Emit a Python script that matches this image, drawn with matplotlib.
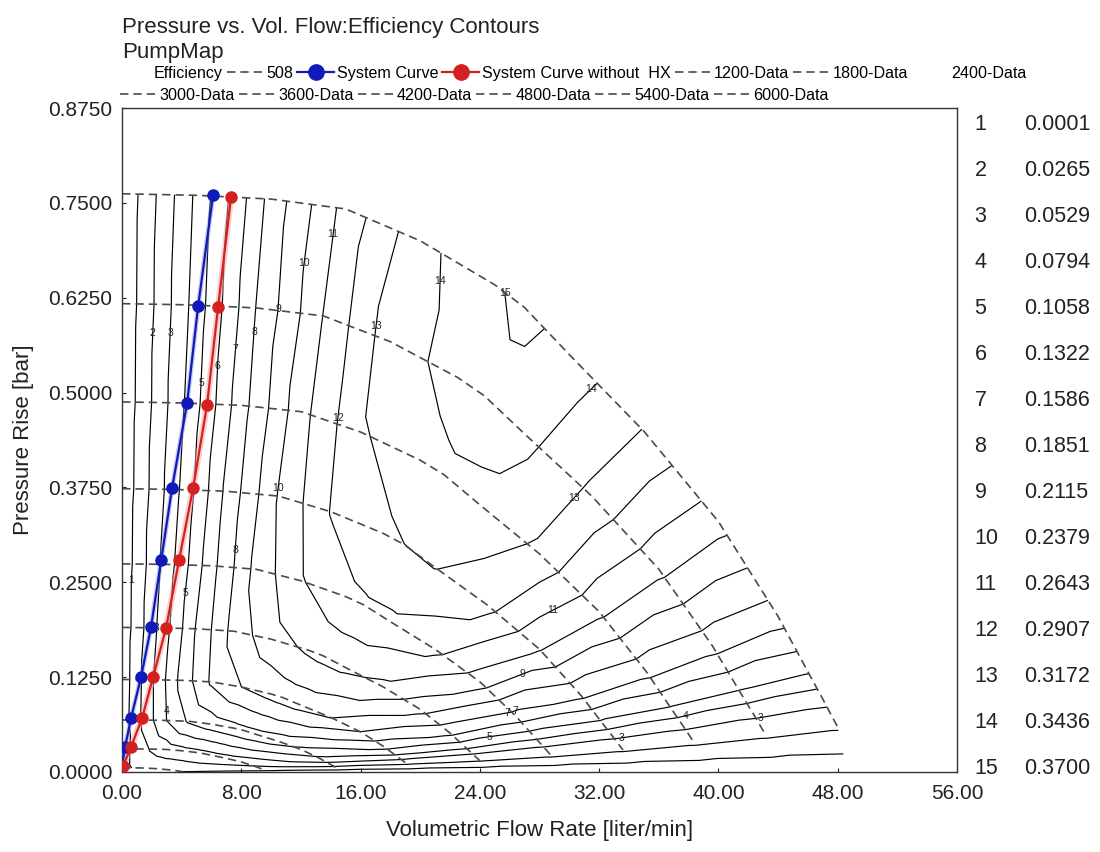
import numpy as np
import matplotlib
matplotlib.use("Agg")
import matplotlib.pyplot as plt
import matplotlib.tri as mtri
from matplotlib.lines import Line2D

plt.rcParams['font.family'] = ['Liberation Sans', 'DejaVu Sans']

# ---------------- data ----------------
SPEEDS = [508, 1200, 1800, 2400, 3000, 3600, 4200, 4800, 5400, 6000]
# top speed line (6000): flow [l/min] and pressure rise [bar]
Q_6000 = [0, 5, 10, 15, 20, 25, 27, 30, 35, 40, 44, 46, 47, 48]
H_6000 = [0.762, 0.760, 0.755, 0.742, 0.700, 0.642, 0.612, 0.550, 0.449,
          0.330, 0.205, 0.132, 0.096, 0.059]
# extra run-out point of the map (near zero pressure, used by the contour grid)
Q_RUNOUT_6000 = 48.5
H_RUNOUT_6000 = 0.012

# efficiency at each point of each speed line (last value: run-out point)
EFF_508 = [-0.006, -0.002, 0.002, 0.004, 0.005, 0.005, 0.005, 0.005, 0.005, 0.004, 0.003, 0.002, 0.001, 0.000, -0.006]
EFF_1200 = [-0.012, 0.012, 0.030, 0.040, 0.044, 0.045, 0.045, 0.045, 0.043, 0.036, 0.027, 0.018, 0.012, 0.006, -0.010]
EFF_1800 = [-0.015, 0.035, 0.080, 0.110, 0.120, 0.124, 0.125, 0.124, 0.118, 0.100, 0.075, 0.050, 0.034, 0.016, -0.010]
EFF_2400 = [-0.017, 0.050, 0.115, 0.163, 0.185, 0.194, 0.196, 0.195, 0.186, 0.158, 0.115, 0.075, 0.048, 0.024, -0.010]
EFF_3000 = [-0.018, 0.058, 0.135, 0.195, 0.228, 0.242, 0.245, 0.244, 0.232, 0.195, 0.140, 0.088, 0.054, 0.028, -0.010]
EFF_3600 = [-0.019, 0.065, 0.150, 0.220, 0.262, 0.284, 0.287, 0.286, 0.272, 0.225, 0.150, 0.092, 0.056, 0.030, -0.010]
EFF_4200 = [-0.020, 0.070, 0.165, 0.240, 0.292, 0.312, 0.317, 0.318, 0.300, 0.240, 0.165, 0.100, 0.058, 0.030, -0.010]
EFF_4800 = [-0.021, 0.075, 0.175, 0.255, 0.314, 0.334, 0.339, 0.337, 0.312, 0.245, 0.168, 0.104, 0.060, 0.030, -0.010]
EFF_5400 = [-0.022, 0.080, 0.186, 0.265, 0.333, 0.352, 0.356, 0.352, 0.312, 0.246, 0.170, 0.105, 0.060, 0.030, -0.010]
EFF_6000 = [-0.023, 0.085, 0.195, 0.274, 0.335, 0.366, 0.378, 0.360, 0.316, 0.249, 0.172, 0.109, 0.062, 0.030, -0.010]
EFF_ROWS = [EFF_508, EFF_1200, EFF_1800, EFF_2400, EFF_3000, EFF_3600,
            EFF_4200, EFF_4800, EFF_5400, EFF_6000]

LEVELS = [0.0001, 0.0265, 0.0529, 0.0794, 0.1058, 0.1322, 0.1586, 0.1851,
          0.2115, 0.2379, 0.2643, 0.2907, 0.3172, 0.3436, 0.3700]
LEVEL_NAMES = [str(i) for i in range(1, 16)]

SYS_Q = [6.10, 5.10, 4.36, 3.35, 2.62, 1.94, 1.27, 0.60, 0.20, 0.0]
SYS_H = [0.760, 0.614, 0.486, 0.374, 0.279, 0.191, 0.125, 0.071, 0.033, 0.008]
SYSNOHX_Q = [7.31, 6.44, 5.70, 4.76, 3.82, 2.95, 2.08, 1.34, 0.60, 0.07]
SYSNOHX_H = [0.758, 0.613, 0.484, 0.374, 0.279, 0.190, 0.125, 0.071, 0.033, 0.008]

LABEL_POS = [(0.74, 0.253), (2.35, 0.578), (3.42, 0.578), (5.2, 0.513), (6.4, 0.535),
             (7.6, 0.557), (8.9, 0.58), (10.1, 0.611), (11.9, 0.672), (14.3, 0.708),
             (17.6, 0.586), (20.8, 0.648), (25.7, 0.631), (31.7, 0.499), (14.6, 0.466),
             (10.1, 0.375), (7.1, 0.293), (4.2, 0.236), (30.2, 0.362), (28.7, 0.22),
             (26.7, 0.137), (26.2, 0.088), (25.9, 0.072), (37.8, 0.075), (33.5, 0.046),
             (42.9, 0.062), (24.7, 0.042), (2.4, 0.19), (2.8, 0.08)]

# ---------------- figure ----------------
fig = plt.figure(figsize=(11.0, 8.52), dpi=100)
ax = fig.add_axes([0.111, 0.0939, 0.759, 0.7793])

q6 = np.array(Q_6000, dtype=float)
h6 = np.array(H_6000, dtype=float)
q6_grid = np.append(q6, Q_RUNOUT_6000)
h6_grid = np.append(h6, H_RUNOUT_6000)

# structured triangulation over the speed lines (affinity scaling of the 6000 line)
xs, ys, zs = [], [], []
for s, row in zip(SPEEDS, EFF_ROWS):
    r = s / 6000.0
    xs.extend(q6_grid * r)
    ys.extend(h6_grid * r * r)
    zs.extend(row)
nc = len(q6_grid)
tris = []
for j in range(len(SPEEDS) - 1):
    for c in range(nc - 1):
        a = j * nc + c
        b = a + 1
        d = (j + 1) * nc + c
        e = d + 1
        tris.append([a, b, d])
        tris.append([b, e, d])
tri = mtri.Triangulation(np.array(xs), np.array(ys), np.array(tris))
cs = ax.tricontour(tri, np.array(zs), levels=LEVELS, colors='black', linewidths=0.85)
fmt = {lv: nm for lv, nm in zip(cs.levels, LEVEL_NAMES)}
labels = ax.clabel(cs, manual=LABEL_POS, fmt=fmt, fontsize=7.5, inline=False)
for t in labels:
    t.set_rotation(0)
    t.set_color('#222222')

# speed lines (dashed)
dash_kw = dict(color='#4a4a4a', linestyle=(0, (5, 3)), linewidth=1.2)
for s in SPEEDS:
    r = s / 6000.0
    ax.plot(q6 * r, h6 * r * r, **dash_kw)

# system curves
ax.plot(SYS_Q, SYS_H, color='#8890e0', lw=3.5, alpha=0.45, zorder=4)
ax.plot(SYS_Q, SYS_H, color='#101ab8', lw=1.6, marker='o', ms=8,
        markeredgecolor='#101ab8', zorder=5)
ax.plot(SYSNOHX_Q, SYSNOHX_H, color='#f4a0a0', lw=4.5, alpha=0.5, zorder=4)
ax.plot(SYSNOHX_Q, SYSNOHX_H, color='#d42020', lw=1.6, marker='o', ms=8,
        markeredgecolor='#d42020', zorder=5)

ax.set_xlim(0, 56)
ax.set_ylim(0, 0.875)
ax.set_xticks(np.arange(0, 57, 8))
ax.set_xticklabels([f"{v:.2f}" for v in np.arange(0, 57, 8)])
ax.set_yticks(np.arange(0, 0.876, 0.125))
ax.set_yticklabels([f"{v:.4f}" for v in np.arange(0, 0.876, 0.125)])
ax.tick_params(axis='both', direction='in', length=3, labelsize=15, colors='#222222')
ax.tick_params(axis='x', pad=9)
ax.tick_params(axis='y', pad=7)
for sp in ax.spines.values():
    sp.set_color('#333333')
    sp.set_linewidth(1.0)
ax.set_xlabel("Volumetric Flow Rate [liter/min]", fontsize=16, labelpad=12, color='#222222')
ax.set_ylabel("Pressure Rise [bar]", fontsize=16, labelpad=10, color='#222222')

# titles
fig.text(0.111, 0.980, "Pressure vs. Vol. Flow:Efficiency Contours", fontsize=16,
         va='top', ha='left', color='#222222')
fig.text(0.111, 0.951, "PumpMap", fontsize=16, va='top', ha='left', color='#222222')

# legends
def dash_handle():
    return Line2D([], [], **dash_kw)

blank = Line2D([], [], color='none')
row1_h = [blank, dash_handle(),
          Line2D([], [], color='#101ab8', lw=1.6, marker='o', ms=11),
          Line2D([], [], color='#d42020', lw=1.6, marker='o', ms=11),
          dash_handle(), dash_handle(), Line2D([], [], color='none')]
row1_l = ["Efficiency", str(SPEEDS[0]), "System Curve", "System Curve without  HX",
          "1200-Data", "1800-Data", "2400-Data"]
row2_h = [dash_handle() for _ in range(6)]
row2_l = [f"{s}-Data" for s in SPEEDS[4:]]
leg_kw = dict(frameon=False, fontsize=11.6, handlelength=2.3, handletextpad=0.15,
              columnspacing=0.25, borderpad=0, borderaxespad=0, loc='center left')
fig.legend(row1_h, row1_l, ncol=len(row1_l), bbox_to_anchor=(0.104, 0.914), **leg_kw)
fig.legend(row2_h, row2_l, ncol=len(row2_l), bbox_to_anchor=(0.109, 0.888), **leg_kw)

# level table on the right
for i, lv in enumerate(LEVELS):
    yy = 1 - (125 + i * 45.93) / 852
    fig.text(0.886, yy, LEVEL_NAMES[i], fontsize=15.5, va='center', ha='left', color='#222222')
    fig.text(0.931, yy, f"{lv:.4f}", fontsize=15.5, va='center', ha='left', color='#222222')

fig.savefig("out.png", dpi=100)
